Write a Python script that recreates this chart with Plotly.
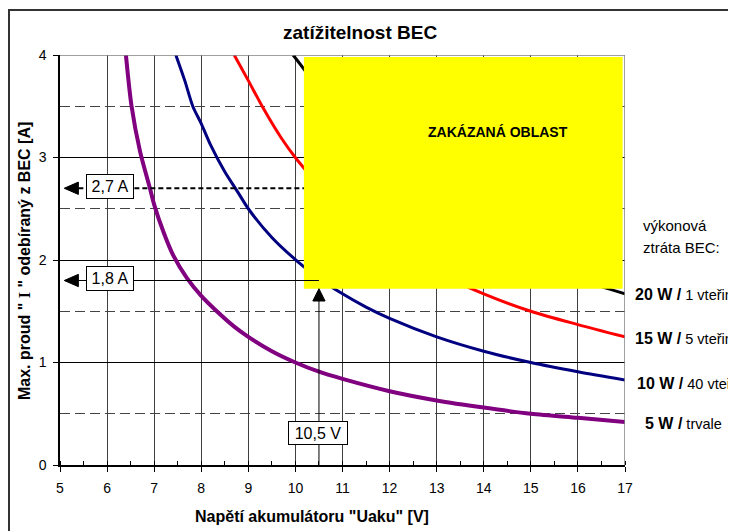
import plotly.graph_objects as go

# ---- data ----
u_5w = [6.40, 6.52, 6.70, 6.91, 7.00, 7.20, 7.40, 7.70, 8.00, 8.33, 8.70, 9.00, 9.50, 10.0, 10.5, 11.0, 12.0, 13.0, 14.0, 15.0, 16.0, 17.0]
i_5w = [4.00, 3.50, 3.06, 2.70, 2.54, 2.27, 2.05, 1.82, 1.65, 1.50, 1.35, 1.25, 1.11, 1.00, 0.91, 0.84, 0.72, 0.63, 0.56, 0.50, 0.46, 0.42]

u_10w = [7.46, 7.65, 7.82, 8.00, 8.20, 8.50, 8.78, 9.00, 9.50, 10.06, 10.5, 11.0, 11.5, 12.0, 13.0, 14.0, 15.0, 16.0, 17.0]
i_10w = [4.00, 3.75, 3.50, 3.33, 3.12, 2.86, 2.66, 2.50, 2.22, 1.98, 1.82, 1.67, 1.54, 1.43, 1.25, 1.11, 1.00, 0.91, 0.83]

u_15w = [8.70, 9.00, 9.33, 9.70, 10.03, 10.5, 11.0, 11.5, 12.0, 13.0, 14.0, 15.0, 16.0, 17.0]
i_15w = [4.00, 3.75, 3.47, 3.19, 2.98, 2.73, 2.50, 2.31, 2.14, 1.88, 1.67, 1.50, 1.37, 1.25]

u_20w = [9.95, 10.2, 10.5, 11.0, 12.0, 13.0, 14.0, 15.0, 16.0, 16.5, 17.0]
i_20w = [4.00, 3.85, 3.64, 3.33, 2.86, 2.50, 2.22, 2.00, 1.82, 1.74, 1.67]

x_ticks = [5, 6, 7, 8, 9, 10, 11, 12, 13, 14, 15, 16, 17]
y_ticks = [0, 1, 2, 3, 4]

marker_currents = [2.7, 1.8]
marker_current_labels = ["2,7 A", "1,8 A"]
marker_voltage = 10.5
marker_voltage_label = "10,5 V"

forbidden_u = [10.18, 16.95]
forbidden_i = [1.72, 3.98]

series_labels_bold = ["20 W /", "15 W /", "10 W /", "5 W /"]
series_labels_norm = ["1 vteřina", "5 vteřin", "40 vteřin", "trvale"]

FONT = "Arial, Liberation Sans, sans-serif"

# page body has an 8px margin -> figure sized so it fits the window;
# plot area placed at page px (60..625, 55..465)
OFF = 8
W, H = 736 - OFF, 531 - OFF
PL, PR, PT, PB = 60, 625, 55, 465

fig = go.Figure()

series = [
    (u_5w, i_5w, "#800080", 4),
    (u_10w, i_10w, "#000080", 3),
    (u_15w, i_15w, "#FF0000", 3),
    (u_20w, i_20w, "#000000", 3),
]
for u, i, col, w in series:
    fig.add_trace(go.Scatter(x=u, y=i, mode="lines",
                             line=dict(color=col, width=w, shape="spline", smoothing=0.8),
                             hoverinfo="skip", showlegend=False))

# plot frame (top / right in grey)
fig.add_shape(type="line", xref="x", yref="y", x0=5, x1=17, y0=4, y1=4,
              line=dict(color="#808080", width=1.5), layer="above")
fig.add_shape(type="line", xref="x", yref="y", x0=17, x1=17, y0=0, y1=4,
              line=dict(color="#808080", width=1.5), layer="above")

# forbidden area
fig.add_shape(type="rect", x0=forbidden_u[0], x1=forbidden_u[1], y0=forbidden_i[0], y1=forbidden_i[1],
              fillcolor="#FFFF00", line_width=0, layer="above")
fig.add_annotation(x=14.3, y=3.25, text="<b>ZAKÁZANÁ OBLAST</b>", showarrow=False,
                   xanchor="center", yanchor="middle",
                   font=dict(family="Liberation Sans Narrow, Arial Narrow, " + FONT, size=14, color="black"))

# arrow markers
tip_x = 5.09
head_w = 0.30
head_h = 0.06
for k, (cur, lab) in enumerate(zip(marker_currents, marker_current_labels)):
    end_x = forbidden_u[0] if k == 0 else marker_voltage
    fig.add_shape(type="line", x0=tip_x + head_w, x1=end_x, y0=cur, y1=cur,
                  line=dict(color="black", width=2 if k == 0 else 1, dash="5px,3px" if k == 0 else "solid"),
                  layer="above")
    fig.add_shape(type="path",
                  path=f"M {tip_x},{cur} L {tip_x + head_w},{cur + head_h} L {tip_x + head_w},{cur - head_h} Z",
                  fillcolor="black", line=dict(color="black", width=1), layer="above")
    fig.add_annotation(x=6.06, y=cur + 0.02, text=lab, showarrow=False,
                       xanchor="center", yanchor="middle",
                       font=dict(family=FONT, size=16, color="black"),
                       bgcolor="white", bordercolor="black", borderwidth=1, borderpad=1,
                       width=44, height=21)

v_tip = forbidden_i[0]
fig.add_shape(type="line", x0=marker_voltage, x1=marker_voltage, y0=0, y1=v_tip - 0.12,
              line=dict(color="black", width=1), layer="above")
fig.add_shape(type="path",
              path=f"M {marker_voltage},{v_tip} L {marker_voltage - 0.13},{v_tip - 0.12} L {marker_voltage + 0.13},{v_tip - 0.12} Z",
              fillcolor="black", line=dict(color="black", width=1), layer="above")
fig.add_annotation(x=10.48, y=0.31, text=marker_voltage_label, showarrow=False,
                   xanchor="center", yanchor="middle",
                   font=dict(family=FONT, size=16, color="black"),
                   bgcolor="white", bordercolor="black", borderwidth=1, borderpad=1,
                   width=56, height=20)


def px_x(px):
    return (px - PL) / float(PR - PL)


def px_y(py):
    return (PB - py) / float(PB - PT)


# right-hand labels
fig.add_annotation(xref="paper", yref="paper", x=px_x(641), y=px_y(225), xanchor="left", yanchor="middle",
                   text="výkonová", showarrow=False, font=dict(family=FONT, size=15, color="black"))
fig.add_annotation(xref="paper", yref="paper", x=px_x(641), y=px_y(247), xanchor="left", yanchor="middle",
                   text="ztráta BEC:", showarrow=False, font=dict(family=FONT, size=15, color="black"))
label_pos = [(633, 294), (633, 338), (635, 383), (643, 423)]
for (lx, ly), b, n in zip(label_pos, series_labels_bold, series_labels_norm):
    fig.add_annotation(xref="paper", yref="paper", x=px_x(lx), y=px_y(ly), xanchor="left", yanchor="middle",
                       text=f"<b>{b}</b><span style='font-size:14.5px'> {n}</span>", showarrow=False,
                       font=dict(family=FONT, size=16, color="black"))

# titles
fig.add_annotation(xref="paper", yref="paper", x=px_x(360), y=px_y(33), xanchor="center", yanchor="middle",
                   text="<b>zatížitelnost BEC</b>",
                   showarrow=False, font=dict(family=FONT, size=19, color="black"))
fig.add_annotation(xref="paper", yref="paper", x=px_x(312), y=px_y(516), xanchor="center", yanchor="middle",
                   text="<b>Napětí akumulátoru \"Uaku\" [V]</b>",
                   showarrow=False, font=dict(family=FONT, size=16, color="black"))
fig.add_annotation(xref="paper", yref="paper", x=px_x(24), y=px_y(261), textangle=-90,
                   xanchor="center", yanchor="middle",
                   text="<b>Max. proud \" <span style='font-family:Liberation Serif, Times New Roman, serif'>I</span> \" odebíraný z BEC [A]</b>",
                   showarrow=False, font=dict(family=FONT, size=16, color="black"))

# outer border
fig.add_shape(type="rect", xref="paper", yref="paper", x0=px_x(9), x1=px_x(770), y0=px_y(570), y1=px_y(10),
              line=dict(color="#333333", width=2), fillcolor="rgba(0,0,0,0)", layer="below")

fig.update_layout(
    width=W, height=H,
    margin=dict(l=PL - OFF, r=W + OFF - PR, t=PT - OFF, b=H + OFF - PB),
    paper_bgcolor="white", plot_bgcolor="white",
    font=dict(family=FONT, size=14, color="black"),
    showlegend=False,
    xaxis=dict(range=[5, 17], tickmode="array", tickvals=x_ticks, ticktext=[str(v) for v in x_ticks],
               showgrid=True, gridcolor="#404040", gridwidth=1,
               showline=True, linecolor="black", linewidth=1.5,
               ticks="outside", ticklen=5, tickcolor="black", tickwidth=1,
               ticklabelstandoff=4,
               minor=dict(dtick=0.5, ticks="inside", ticklen=4, tickcolor="black", showgrid=False),
               zeroline=False, fixedrange=True, tickfont=dict(size=14)),
    yaxis=dict(range=[0, 4], tickmode="array", tickvals=y_ticks, ticktext=[str(v) for v in y_ticks],
               showgrid=True, gridcolor="black", gridwidth=1,
               showline=True, linecolor="black", linewidth=1.5,
               ticks="outside", ticklen=5, tickcolor="black", tickwidth=1,
               ticklabelstandoff=4,
               minor=dict(dtick=0.5, showgrid=True, griddash="10px,5px", gridcolor="#444444", gridwidth=1, ticks=""),
               zeroline=False, fixedrange=True, tickfont=dict(size=14)),
)

fig.write_html("out.html")
